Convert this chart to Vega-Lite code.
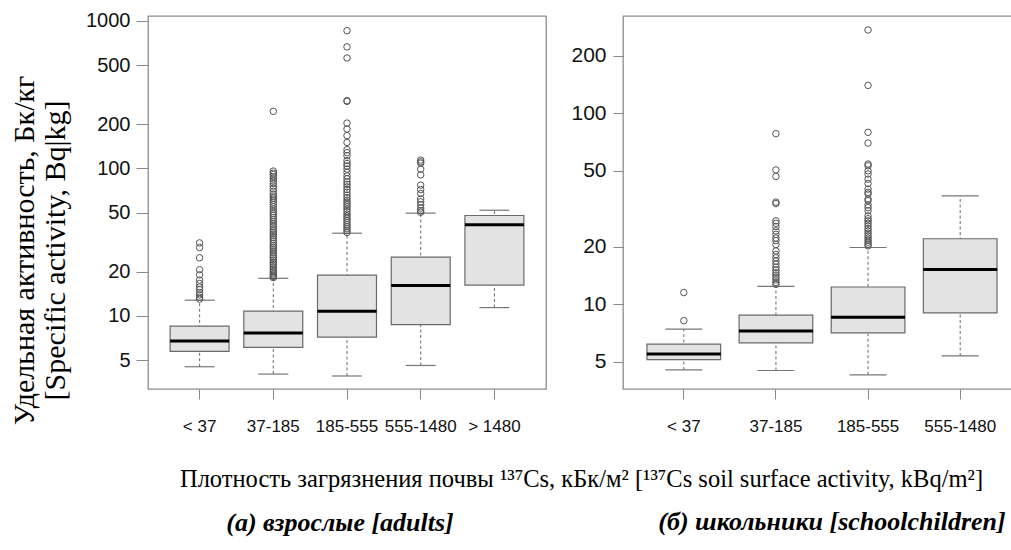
{
  "$schema": "https://vega.github.io/schema/vega-lite/v6.json",
  "padding": {"left": 8, "top": 10, "right": 0, "bottom": 0},
  "background": "white",
  "spacing": 77,
  "bounds": "flush",
  "config": {
    "view": {"stroke": "#8c8c8c", "strokeWidth": 1.3},
    "axis": {"grid": false, "domain": false, "tickColor": "#888888", "labelColor": "#111111", "labelFont": "Liberation Sans", "titleColor": "#000000"}
  },
  "datasets": {
    "stats": [
      {"panel": "a", "cat": "< 37", "lo": 4.53, "q1": 5.75, "med": 6.76, "q3": 8.55, "hi": 12.8},
      {"panel": "a", "cat": "37-185", "lo": 4.04, "q1": 6.12, "med": 7.67, "q3": 10.8, "hi": 18.0},
      {"panel": "a", "cat": "185-555", "lo": 3.92, "q1": 7.2, "med": 10.75, "q3": 18.9, "hi": 36.4},
      {"panel": "a", "cat": "555-1480", "lo": 4.62, "q1": 8.73, "med": 16.1, "q3": 25.1, "hi": 49.8},
      {"panel": "a", "cat": "> 1480", "lo": 11.4, "q1": 16.2, "med": 41.5, "q3": 48.0, "hi": 52.1},
      {"panel": "b", "cat": "< 37", "lo": 4.53, "q1": 5.13, "med": 5.49, "q3": 6.18, "hi": 7.4},
      {"panel": "b", "cat": "37-185", "lo": 4.5, "q1": 6.28, "med": 7.25, "q3": 8.76, "hi": 12.4},
      {"panel": "b", "cat": "185-555", "lo": 4.27, "q1": 7.08, "med": 8.55, "q3": 12.3, "hi": 19.8},
      {"panel": "b", "cat": "555-1480", "lo": 5.36, "q1": 9.0, "med": 15.2, "q3": 22.0, "hi": 36.9}
    ],
    "out": [
      {"panel": "a", "cat": "< 37", "v": 31.3}, {"panel": "a", "cat": "< 37", "v": 29.1}, {"panel": "a", "cat": "< 37", "v": 24.8},
      {"panel": "a", "cat": "< 37", "v": 20.6}, {"panel": "a", "cat": "< 37", "v": 19.0}, {"panel": "a", "cat": "< 37", "v": 17.5},
      {"panel": "a", "cat": "< 37", "v": 16.6}, {"panel": "a", "cat": "< 37", "v": 15.7}, {"panel": "a", "cat": "< 37", "v": 15.1},
      {"panel": "a", "cat": "< 37", "v": 14.4}, {"panel": "a", "cat": "< 37", "v": 13.9}, {"panel": "a", "cat": "< 37", "v": 13.4},
      {"panel": "a", "cat": "< 37", "v": 13.0},
      {"panel": "a", "cat": "37-185", "v": 243.8}, {"panel": "a", "cat": "37-185", "v": 96}, {"panel": "a", "cat": "37-185", "v": 93},
      {"panel": "a", "cat": "37-185", "v": 91}, {"panel": "a", "cat": "37-185", "v": 88}, {"panel": "a", "cat": "37-185", "v": 85},
      {"panel": "a", "cat": "37-185", "v": 82}, {"panel": "a", "cat": "37-185", "v": 79}, {"panel": "a", "cat": "37-185", "v": 76},
      {"panel": "a", "cat": "37-185", "v": 73}, {"panel": "a", "cat": "37-185", "v": 70}, {"panel": "a", "cat": "37-185", "v": 67},
      {"panel": "a", "cat": "37-185", "v": 65}, {"panel": "a", "cat": "37-185", "v": 63}, {"panel": "a", "cat": "37-185", "v": 61},
      {"panel": "a", "cat": "37-185", "v": 59}, {"panel": "a", "cat": "37-185", "v": 57}, {"panel": "a", "cat": "37-185", "v": 55},
      {"panel": "a", "cat": "37-185", "v": 53}, {"panel": "a", "cat": "37-185", "v": 51}, {"panel": "a", "cat": "37-185", "v": 49.5},
      {"panel": "a", "cat": "37-185", "v": 48}, {"panel": "a", "cat": "37-185", "v": 46.5}, {"panel": "a", "cat": "37-185", "v": 45},
      {"panel": "a", "cat": "37-185", "v": 43.5}, {"panel": "a", "cat": "37-185", "v": 42}, {"panel": "a", "cat": "37-185", "v": 40.5},
      {"panel": "a", "cat": "37-185", "v": 39}, {"panel": "a", "cat": "37-185", "v": 38}, {"panel": "a", "cat": "37-185", "v": 37},
      {"panel": "a", "cat": "37-185", "v": 36}, {"panel": "a", "cat": "37-185", "v": 35}, {"panel": "a", "cat": "37-185", "v": 34},
      {"panel": "a", "cat": "37-185", "v": 33}, {"panel": "a", "cat": "37-185", "v": 32}, {"panel": "a", "cat": "37-185", "v": 31},
      {"panel": "a", "cat": "37-185", "v": 30}, {"panel": "a", "cat": "37-185", "v": 29.2}, {"panel": "a", "cat": "37-185", "v": 28.4},
      {"panel": "a", "cat": "37-185", "v": 27.6}, {"panel": "a", "cat": "37-185", "v": 26.8}, {"panel": "a", "cat": "37-185", "v": 26},
      {"panel": "a", "cat": "37-185", "v": 25.3}, {"panel": "a", "cat": "37-185", "v": 24.6}, {"panel": "a", "cat": "37-185", "v": 23.9},
      {"panel": "a", "cat": "37-185", "v": 23.2}, {"panel": "a", "cat": "37-185", "v": 22.6}, {"panel": "a", "cat": "37-185", "v": 22},
      {"panel": "a", "cat": "37-185", "v": 21.4}, {"panel": "a", "cat": "37-185", "v": 20.8}, {"panel": "a", "cat": "37-185", "v": 20.3},
      {"panel": "a", "cat": "37-185", "v": 19.8}, {"panel": "a", "cat": "37-185", "v": 19.3}, {"panel": "a", "cat": "37-185", "v": 18.9},
      {"panel": "a", "cat": "37-185", "v": 18.5}, {"panel": "a", "cat": "37-185", "v": 18.2},
      {"panel": "a", "cat": "185-555", "v": 859}, {"panel": "a", "cat": "185-555", "v": 667}, {"panel": "a", "cat": "185-555", "v": 561},
      {"panel": "a", "cat": "185-555", "v": 288}, {"panel": "a", "cat": "185-555", "v": 285}, {"panel": "a", "cat": "185-555", "v": 203},
      {"panel": "a", "cat": "185-555", "v": 185}, {"panel": "a", "cat": "185-555", "v": 167}, {"panel": "a", "cat": "185-555", "v": 150},
      {"panel": "a", "cat": "185-555", "v": 134}, {"panel": "a", "cat": "185-555", "v": 128}, {"panel": "a", "cat": "185-555", "v": 122},
      {"panel": "a", "cat": "185-555", "v": 113}, {"panel": "a", "cat": "185-555", "v": 108}, {"panel": "a", "cat": "185-555", "v": 104},
      {"panel": "a", "cat": "185-555", "v": 99}, {"panel": "a", "cat": "185-555", "v": 94}, {"panel": "a", "cat": "185-555", "v": 89},
      {"panel": "a", "cat": "185-555", "v": 85}, {"panel": "a", "cat": "185-555", "v": 81}, {"panel": "a", "cat": "185-555", "v": 78},
      {"panel": "a", "cat": "185-555", "v": 75}, {"panel": "a", "cat": "185-555", "v": 72}, {"panel": "a", "cat": "185-555", "v": 69},
      {"panel": "a", "cat": "185-555", "v": 66}, {"panel": "a", "cat": "185-555", "v": 63.5}, {"panel": "a", "cat": "185-555", "v": 61},
      {"panel": "a", "cat": "185-555", "v": 59}, {"panel": "a", "cat": "185-555", "v": 57}, {"panel": "a", "cat": "185-555", "v": 55},
      {"panel": "a", "cat": "185-555", "v": 53}, {"panel": "a", "cat": "185-555", "v": 51}, {"panel": "a", "cat": "185-555", "v": 49},
      {"panel": "a", "cat": "185-555", "v": 47.5}, {"panel": "a", "cat": "185-555", "v": 46}, {"panel": "a", "cat": "185-555", "v": 44.5},
      {"panel": "a", "cat": "185-555", "v": 43}, {"panel": "a", "cat": "185-555", "v": 41.5}, {"panel": "a", "cat": "185-555", "v": 40.2},
      {"panel": "a", "cat": "185-555", "v": 39}, {"panel": "a", "cat": "185-555", "v": 37.8}, {"panel": "a", "cat": "185-555", "v": 36.8},
      {"panel": "a", "cat": "555-1480", "v": 114}, {"panel": "a", "cat": "555-1480", "v": 111}, {"panel": "a", "cat": "555-1480", "v": 108.7},
      {"panel": "a", "cat": "555-1480", "v": 98.9}, {"panel": "a", "cat": "555-1480", "v": 90.5}, {"panel": "a", "cat": "555-1480", "v": 77.1},
      {"panel": "a", "cat": "555-1480", "v": 72}, {"panel": "a", "cat": "555-1480", "v": 67.6}, {"panel": "a", "cat": "555-1480", "v": 62.2},
      {"panel": "a", "cat": "555-1480", "v": 59.4}, {"panel": "a", "cat": "555-1480", "v": 56.7}, {"panel": "a", "cat": "555-1480", "v": 53.8},
      {"panel": "a", "cat": "555-1480", "v": 51.7}, {"panel": "a", "cat": "555-1480", "v": 50.5},
      {"panel": "b", "cat": "< 37", "v": 11.5}, {"panel": "b", "cat": "< 37", "v": 8.2},
      {"panel": "b", "cat": "37-185", "v": 78}, {"panel": "b", "cat": "37-185", "v": 50.4}, {"panel": "b", "cat": "37-185", "v": 46.6},
      {"panel": "b", "cat": "37-185", "v": 34.2}, {"panel": "b", "cat": "37-185", "v": 33.6}, {"panel": "b", "cat": "37-185", "v": 27.3},
      {"panel": "b", "cat": "37-185", "v": 26.5}, {"panel": "b", "cat": "37-185", "v": 25.5}, {"panel": "b", "cat": "37-185", "v": 24.2},
      {"panel": "b", "cat": "37-185", "v": 23.2}, {"panel": "b", "cat": "37-185", "v": 22.2}, {"panel": "b", "cat": "37-185", "v": 21.5},
      {"panel": "b", "cat": "37-185", "v": 20.5}, {"panel": "b", "cat": "37-185", "v": 19.0}, {"panel": "b", "cat": "37-185", "v": 18.2},
      {"panel": "b", "cat": "37-185", "v": 17.5}, {"panel": "b", "cat": "37-185", "v": 16.8}, {"panel": "b", "cat": "37-185", "v": 16.2},
      {"panel": "b", "cat": "37-185", "v": 15.6}, {"panel": "b", "cat": "37-185", "v": 15.1}, {"panel": "b", "cat": "37-185", "v": 14.6},
      {"panel": "b", "cat": "37-185", "v": 14.2}, {"panel": "b", "cat": "37-185", "v": 13.8}, {"panel": "b", "cat": "37-185", "v": 13.4},
      {"panel": "b", "cat": "37-185", "v": 13.0}, {"panel": "b", "cat": "37-185", "v": 12.7},
      {"panel": "b", "cat": "185-555", "v": 272}, {"panel": "b", "cat": "185-555", "v": 139.6}, {"panel": "b", "cat": "185-555", "v": 79.3},
      {"panel": "b", "cat": "185-555", "v": 69.7}, {"panel": "b", "cat": "185-555", "v": 54.1}, {"panel": "b", "cat": "185-555", "v": 53.0},
      {"panel": "b", "cat": "185-555", "v": 49.9}, {"panel": "b", "cat": "185-555", "v": 48}, {"panel": "b", "cat": "185-555", "v": 45.1},
      {"panel": "b", "cat": "185-555", "v": 42.8}, {"panel": "b", "cat": "185-555", "v": 40.0}, {"panel": "b", "cat": "185-555", "v": 38.5},
      {"panel": "b", "cat": "185-555", "v": 37.7}, {"panel": "b", "cat": "185-555", "v": 35.5}, {"panel": "b", "cat": "185-555", "v": 34.8},
      {"panel": "b", "cat": "185-555", "v": 33.1}, {"panel": "b", "cat": "185-555", "v": 32}, {"panel": "b", "cat": "185-555", "v": 30.8},
      {"panel": "b", "cat": "185-555", "v": 29.0}, {"panel": "b", "cat": "185-555", "v": 28}, {"panel": "b", "cat": "185-555", "v": 27.3},
      {"panel": "b", "cat": "185-555", "v": 26.5}, {"panel": "b", "cat": "185-555", "v": 25.7}, {"panel": "b", "cat": "185-555", "v": 24.9},
      {"panel": "b", "cat": "185-555", "v": 24.2}, {"panel": "b", "cat": "185-555", "v": 23.5}, {"panel": "b", "cat": "185-555", "v": 22.8},
      {"panel": "b", "cat": "185-555", "v": 22.2}, {"panel": "b", "cat": "185-555", "v": 21.6}, {"panel": "b", "cat": "185-555", "v": 21.1},
      {"panel": "b", "cat": "185-555", "v": 20.6}, {"panel": "b", "cat": "185-555", "v": 20.2}
    ]
  },
  "hconcat": [
    {
      "width": 398,
      "height": 373,
      "title": {"text": "(а) взрослые [adults]", "orient": "bottom", "anchor": "middle", "frame": "group", "offset": 40, "baseline": "alphabetic", "dx": -7, "font": "Liberation Serif", "fontSize": 26, "fontStyle": "italic", "fontWeight": "bold", "color": "#000000"},
      "encoding": {
        "x": {"field": "cat", "type": "nominal", "sort": ["< 37", "37-185", "185-555", "555-1480", "> 1480"],
          "scale": {"type": "band", "paddingInner": 0.2, "paddingOuter": 0.3},
          "axis": {"labelAngle": 0, "labelFontSize": 17, "labelPadding": 19, "tickSize": 10,
            "title": "Плотность загрязнения почвы ¹³⁷Cs, кБк/м² [¹³⁷Cs soil surface activity, kBq/m²]",
            "titleX": 433, "titleY": 97, "titleAlign": "center", "titleBaseline": "alphabetic",
            "titleFont": "Liberation Serif", "titleFontSize": 24.5, "titleFontWeight": "normal"}}
      },
      "layer": [
        {"data": {"name": "stats"}, "transform": [{"filter": "datum.panel === 'a'"}],
          "mark": {"type": "rule", "color": "#777777", "strokeDash": [3, 2.5], "strokeWidth": 1.1},
          "encoding": {"y": {"field": "lo", "type": "quantitative",
            "scale": {"type": "log", "domain": [3.2, 1080], "nice": false, "zero": false},
            "axis": {"values": [5, 10, 20, 50, 100, 200, 500, 1000], "format": "d", "labelFontSize": 20, "tickSize": 12, "labelPadding": 6,
              "title": ["Удельная активность, Бк/кг", "[Specific activity, Bq|kg]"],
              "titleX": -115, "titleY": 234, "titleAngle": 270, "titleAlign": "center", "titleBaseline": "alphabetic",
              "titleFont": "Liberation Serif", "titleFontSize": 30, "titleFontWeight": "normal", "titleLineHeight": 31}},
            "y2": {"field": "hi"}}},
        {"data": {"name": "stats"}, "transform": [{"filter": "datum.panel === 'a'"}],
          "mark": {"type": "bar", "fill": "#e3e3e3", "stroke": "#6a6a6a", "strokeWidth": 1.2},
          "encoding": {"y": {"field": "q1", "type": "quantitative"}, "y2": {"field": "q3"}}},
        {"data": {"name": "stats"}, "transform": [{"filter": "datum.panel === 'a'"}],
          "mark": {"type": "tick", "color": "#000000", "size": 59, "thickness": 3, "opacity": 1},
          "encoding": {"y": {"field": "med", "type": "quantitative"}}},
        {"data": {"name": "stats"}, "transform": [{"filter": "datum.panel === 'a'"}],
          "mark": {"type": "tick", "color": "#777777", "size": 30, "thickness": 1.2, "opacity": 1},
          "encoding": {"y": {"field": "lo", "type": "quantitative"}}},
        {"data": {"name": "stats"}, "transform": [{"filter": "datum.panel === 'a'"}],
          "mark": {"type": "tick", "color": "#777777", "size": 30, "thickness": 1.2, "opacity": 1},
          "encoding": {"y": {"field": "hi", "type": "quantitative"}}},
        {"data": {"name": "out"}, "transform": [{"filter": "datum.panel === 'a'"}],
          "mark": {"type": "point", "shape": "circle", "filled": false, "color": "#555555", "size": 42, "strokeWidth": 1, "opacity": 1},
          "encoding": {"y": {"field": "v", "type": "quantitative"}}}
      ]
    },
    {
      "width": 398,
      "height": 373,
      "title": {"text": "(б) школьники [schoolchildren]", "orient": "bottom", "anchor": "middle", "frame": "group", "offset": 96, "baseline": "alphabetic", "dx": 10, "font": "Liberation Serif", "fontSize": 26, "fontStyle": "italic", "fontWeight": "bold", "color": "#000000"},
      "encoding": {
        "x": {"field": "cat", "type": "nominal", "sort": ["< 37", "37-185", "185-555", "555-1480"],
          "scale": {"type": "band", "paddingInner": 0.2, "paddingOuter": 0.26},
          "axis": {"labelAngle": 0, "labelFontSize": 17, "labelPadding": 19, "tickSize": 10, "title": null}}
      },
      "layer": [
        {"data": {"name": "stats"}, "transform": [{"filter": "datum.panel === 'b'"}],
          "mark": {"type": "rule", "color": "#777777", "strokeDash": [3, 2.5], "strokeWidth": 1.1},
          "encoding": {"y": {"field": "lo", "type": "quantitative",
            "scale": {"type": "log", "domain": [3.6, 322], "nice": false, "zero": false},
            "axis": {"values": [5, 10, 20, 50, 100, 200], "format": "d", "labelFontSize": 21, "tickSize": 10, "labelPadding": 7, "title": null}},
            "y2": {"field": "hi"}}},
        {"data": {"name": "stats"}, "transform": [{"filter": "datum.panel === 'b'"}],
          "mark": {"type": "bar", "fill": "#e3e3e3", "stroke": "#6a6a6a", "strokeWidth": 1.2},
          "encoding": {"y": {"field": "q1", "type": "quantitative"}, "y2": {"field": "q3"}}},
        {"data": {"name": "stats"}, "transform": [{"filter": "datum.panel === 'b'"}],
          "mark": {"type": "tick", "color": "#000000", "size": 74, "thickness": 3, "opacity": 1},
          "encoding": {"y": {"field": "med", "type": "quantitative"}}},
        {"data": {"name": "stats"}, "transform": [{"filter": "datum.panel === 'b'"}],
          "mark": {"type": "tick", "color": "#777777", "size": 37, "thickness": 1.2, "opacity": 1},
          "encoding": {"y": {"field": "lo", "type": "quantitative"}}},
        {"data": {"name": "stats"}, "transform": [{"filter": "datum.panel === 'b'"}],
          "mark": {"type": "tick", "color": "#777777", "size": 37, "thickness": 1.2, "opacity": 1},
          "encoding": {"y": {"field": "hi", "type": "quantitative"}}},
        {"data": {"name": "out"}, "transform": [{"filter": "datum.panel === 'b'"}],
          "mark": {"type": "point", "shape": "circle", "filled": false, "color": "#555555", "size": 42, "strokeWidth": 1, "opacity": 1},
          "encoding": {"y": {"field": "v", "type": "quantitative"}}}
      ]
    }
  ]
}
